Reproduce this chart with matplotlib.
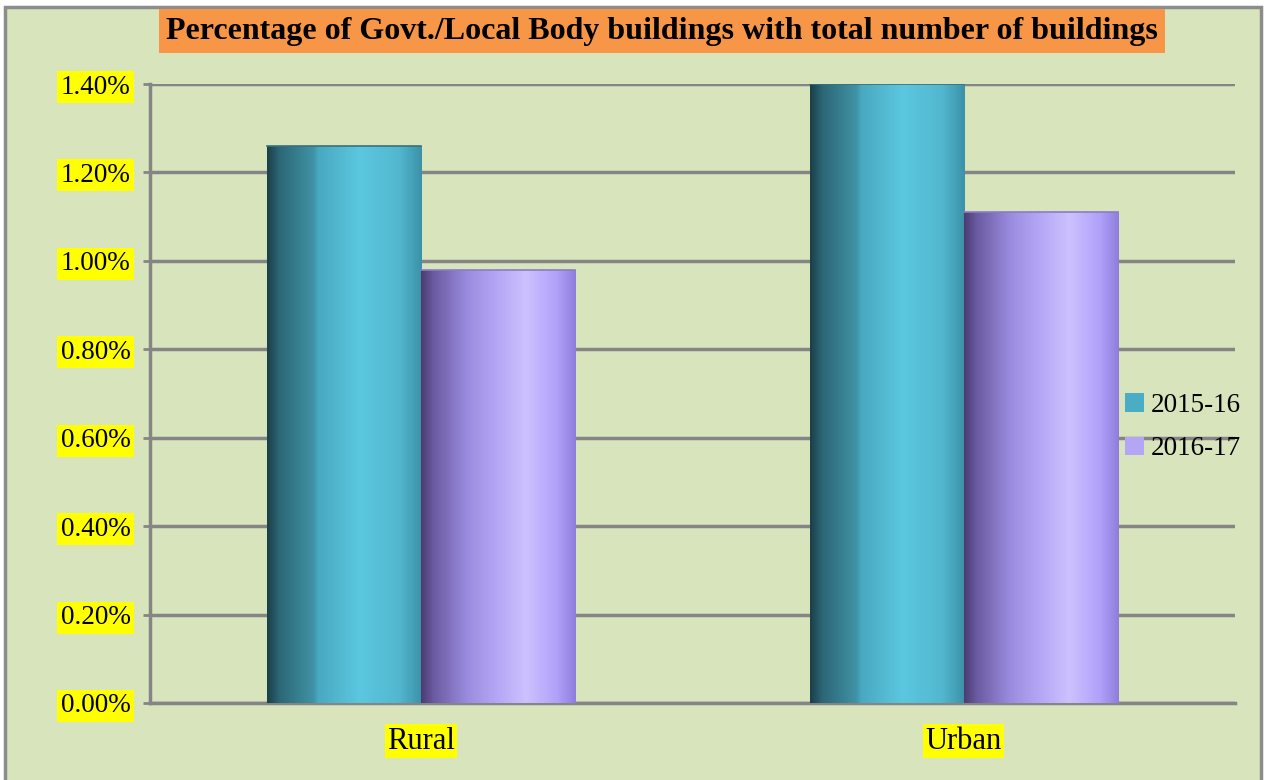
import numpy as np
import matplotlib
matplotlib.use('Agg')
import matplotlib.pyplot as plt
from matplotlib.patches import Patch, Rectangle
from matplotlib.colors import LinearSegmentedColormap

# data (percent)
categories = ['Rural', 'Urban']
years = ['2015-16', '2016-17']
vals_2015 = [1.26, 1.40]
vals_2016 = [0.98, 1.11]
yticks = [0.0, 0.2, 0.4, 0.6, 0.8, 1.0, 1.2, 1.4]

title = 'Percentage of Govt./Local Body buildings with total number of buildings'

bg = '#D8E4BC'
grid_col = '#858585'
teal = '#4BACC6'
purple = '#B4A5F5'

teal_cm = LinearSegmentedColormap.from_list('teal', [
    (0.0, '#1b3f48'), (0.08, '#2c6776'), (0.3, '#3f93a6'),
    (0.33, '#48a9c0'), (0.6, '#5cc7e0'), (0.85, '#52b8d0'), (1.0, '#3b92a8')])
purple_cm = LinearSegmentedColormap.from_list('purple', [
    (0.0, '#4a3c72'), (0.08, '#6a5aa0'), (0.3, '#9c8ce0'),
    (0.5, '#b6a8f6'), (0.68, '#cdc1ff'), (0.88, '#b0a1fa'), (1.0, '#8f7ddb')])

plt.rcParams['font.family'] = ['Liberation Serif', 'DejaVu Serif']

fig = plt.figure(figsize=(12.67, 7.80), dpi=100)
fig.patch.set_facecolor('white')
fig.patches.append(Rectangle((5 / 1267, -0.01), 1256 / 1267, 1 - 7 / 780 + 0.01,
                             transform=fig.transFigure, facecolor=bg,
                             edgecolor='#8c8c8c', linewidth=2.5, zorder=-10))

ax = fig.add_axes([150 / 1267, 1 - 703 / 780, 1085 / 1267, (703 - 84) / 780])
ax.set_facecolor('none')

x = np.arange(len(categories))
w = 0.284
b1 = ax.bar(x - w / 2, vals_2015, w, color=teal, zorder=3)
b2 = ax.bar(x + w / 2, vals_2016, w, color=purple, zorder=3)

grad = np.linspace(0, 1, 256).reshape(1, -1)
for bars, cm in ((b1, teal_cm), (b2, purple_cm)):
    for p in bars:
        x0, y0 = p.get_x(), p.get_y()
        im = ax.imshow(grad, cmap=cm, aspect='auto', zorder=4,
                       extent=(x0, x0 + p.get_width(), y0, y0 + p.get_height()))
        im.set_clip_path(p)
        # thin top rim
        ax.plot([x0, x0 + p.get_width()], [p.get_height()] * 2,
                color='#3d6f7a' if cm is teal_cm else '#8a7cc8', lw=1.2, zorder=5)

ax.set_xlim(-0.5, 1.5)
ax.set_ylim(0, 1.4)
ax.set_yticks(yticks)
ax.set_yticklabels(['%.2f%%' % v for v in yticks], fontsize=19.5)
ax.set_xticks(x)
ax.set_xticklabels(categories, fontsize=22)

ax.grid(axis='y', color=grid_col, linewidth=2.5, zorder=1)
ax.set_axisbelow(True)
for s in ['top', 'right']:
    ax.spines[s].set_visible(False)
for s in ['left', 'bottom']:
    ax.spines[s].set_color(grid_col)
    ax.spines[s].set_linewidth(2.5)
ax.tick_params(axis='y', length=5, width=2, color=grid_col, pad=9)
ax.tick_params(axis='x', length=0, pad=17)
for lbl in ax.get_yticklabels():
    lbl.set_bbox(dict(facecolor='yellow', edgecolor='none', pad=2.5))
for lbl in ax.get_xticklabels():
    lbl.set_bbox(dict(facecolor='yellow', edgecolor='none', pad=1.5))

fig.text(662 / 1267, 1 - 31 / 780, title, ha='center', va='center',
         fontsize=23, fontweight='bold',
         bbox=dict(facecolor='#F79646', edgecolor='none', pad=5))

handles = [Patch(facecolor=teal, label=years[0]),
           Patch(facecolor=purple, label=years[1])]
fig.legend(handles=handles, loc='center left', frameon=False, fontsize=19.5,
           bbox_to_anchor=(1101 / 1267, 1 - 427 / 780),
           handlelength=0.7, handleheight=0.7, handletextpad=0.25,
           labelspacing=0.7)

fig.savefig('out.png', dpi=100, facecolor=fig.get_facecolor())
